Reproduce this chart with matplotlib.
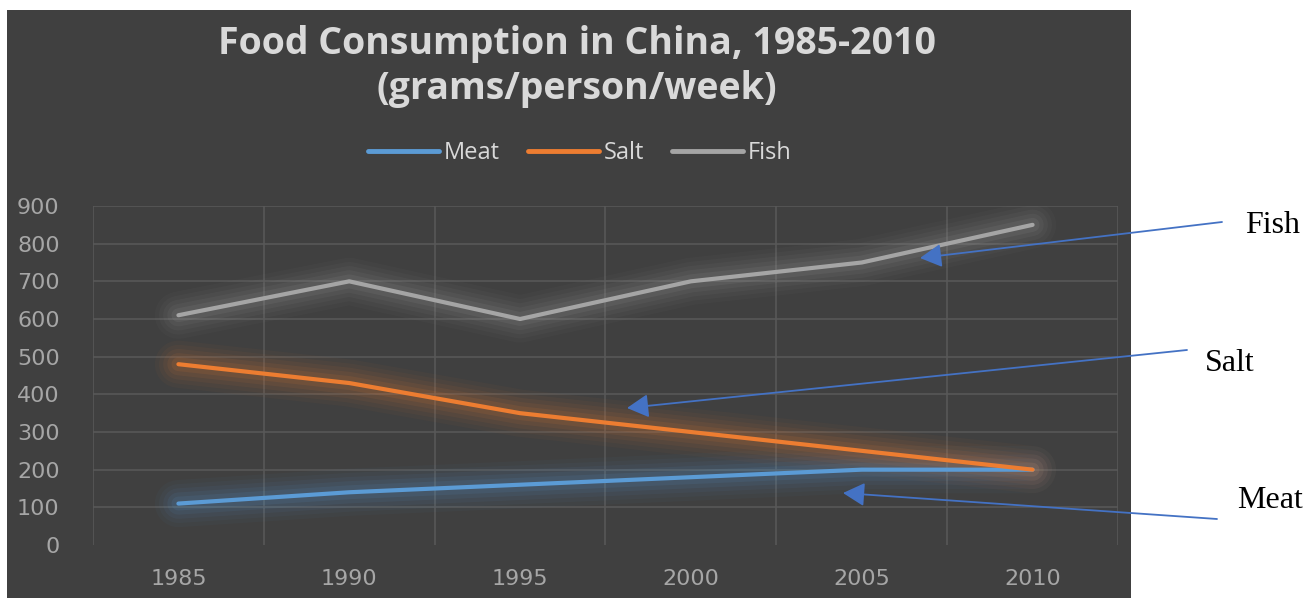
import matplotlib
matplotlib.use("Agg")
import matplotlib.pyplot as plt
from matplotlib.patches import Rectangle

years = ["1985", "1990", "1995", "2000", "2005", "2010"]
meat = [110, 140, 160, 180, 200, 200]
salt = [480, 430, 350, 300, 250, 200]
fish = [610, 700, 600, 700, 750, 850]
series_names = ["Meat", "Salt", "Fish"]
y_ticks = [0, 100, 200, 300, 400, 500, 600, 700, 800, 900]

W, H = 1304, 599
fig = plt.figure(figsize=(W / 100, H / 100), dpi=100, facecolor="white")

# dark chart panel
fig.add_artist(Rectangle((7 / W, 1 / H), (1131 - 7) / W, (599 - 10 - 1) / H,
                         transform=fig.transFigure, facecolor="#404040",
                         edgecolor="none", zorder=0))

ax = fig.add_axes([93 / W, 1 - 545 / H, (1118 - 93) / W, (545 - 206) / H])
ax.set_facecolor("none")
for s in ax.spines.values():
    s.set_visible(False)

x = list(range(len(years)))
ax.set_xlim(-0.5, len(years) - 0.5)
ax.set_ylim(0, 900)

grid_c = "#595959"
for yv in y_ticks[1:]:
    ax.axhline(yv, color=grid_c, lw=1.1, zorder=1)
for xv in [i - 0.5 for i in range(len(years) + 1)]:
    ax.axvline(xv, color=grid_c, lw=1.1, zorder=1)

colors = ["#5B9BD5", "#ED7D31", "#A5A5A5"]
handles = []
for vals, c, name in zip([meat, salt, fish], colors, series_names):
    for lw, a in [(34, 0.035), (28, 0.045), (22, 0.06), (16, 0.08), (10, 0.1)]:
        ax.plot(x, vals, color=c, lw=lw, alpha=a, solid_capstyle="round",
                solid_joinstyle="round", zorder=2)
    ln, = ax.plot(x, vals, color=c, lw=3.0, solid_capstyle="round",
                  solid_joinstyle="round", zorder=3, label=name)
    handles.append(ln)

ax.set_xticks(x)
ax.set_xticklabels(years)
ax.set_yticks(y_ticks)
ax.tick_params(axis="both", length=0, labelsize=16, colors="#A6A6A6")
ax.tick_params(axis="y", pad=24)
ax.tick_params(axis="x", pad=17)

fig.text(577 / W, 1 - 25 / H,
         "Food Consumption in China, 1985-2010\n(grams/person/week)",
         ha="center", va="top", fontsize=27, color="#D9D9D9",
         family="Open Sans", fontweight="bold", linespacing=1.25)

leg = fig.legend(handles=handles, loc="center", ncol=3,
                 bbox_to_anchor=(580 / W, 1 - 153 / H), frameon=False,
                 handlelength=3.0, handletextpad=0.2,
                 columnspacing=1.2, prop={"family": "Open Sans", "size": 17})
for t in leg.get_texts():
    t.set_color("#D9D9D9")
for lh in leg.get_lines():
    lh.set_linewidth(3.5)

# annotations on the right
serif = "Liberation Serif"
fig.text(1245 / W, 1 - 233 / H, "Fish", fontsize=23, family=serif,
         color="black", va="baseline", ha="left")
fig.text(1205 / W, 1 - 371 / H, "Salt", fontsize=23, family=serif,
         color="black", va="baseline", ha="left")
fig.text(1237 / W, 1 - 508 / H, "Meat", fontsize=23, family=serif,
         color="black", va="baseline", ha="left")

arrow_c = "#4472C4"
ap = dict(arrowstyle="-|>,head_length=0.55,head_width=0.3", mutation_scale=24,
          lw=1.3, color=arrow_c, shrinkA=0, shrinkB=0)
def px2data(px, py):
    return ax.transData.inverted().transform(
        fig.transFigure.transform((px / W, 1 - py / H)))
for tail, head in [((1222, 222), (920, 258)),
                   ((1187, 350), (627, 408)),
                   ((1217, 519), (843, 493))]:
    ax.annotate("", xy=px2data(*head), xycoords="data",
                xytext=(tail[0] / W, 1 - tail[1] / H),
                textcoords="figure fraction", arrowprops=ap,
                annotation_clip=False, zorder=5)

fig.savefig("out.png", dpi=100, facecolor="white")
